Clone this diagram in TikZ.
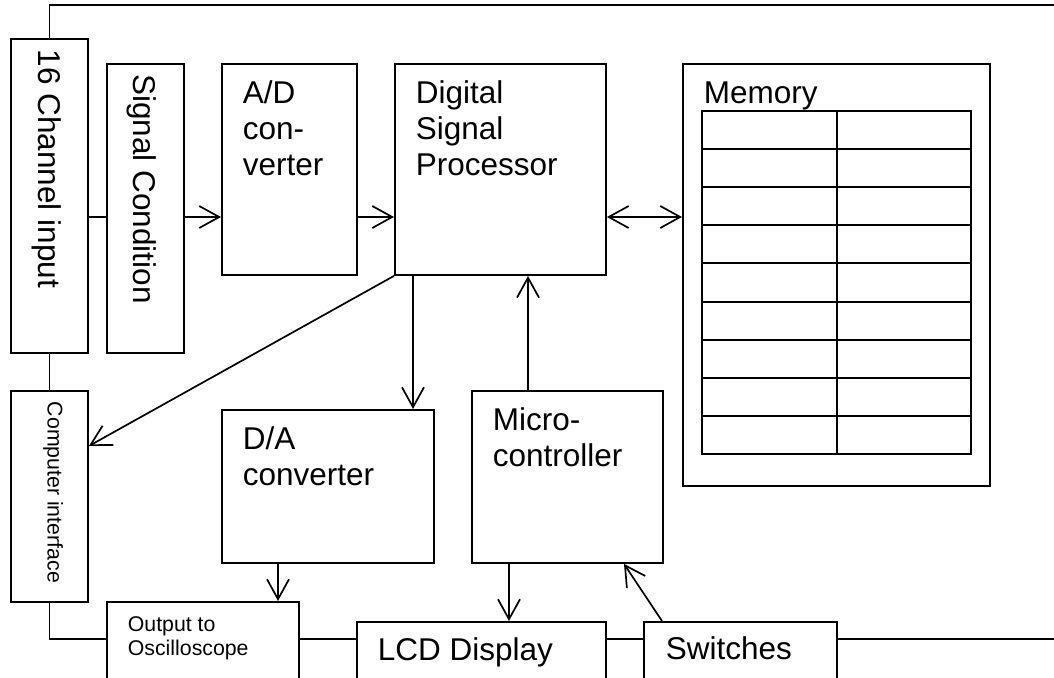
\documentclass[tikz,border=0pt]{standalone}
\usepackage{fontspec}
\setmainfont{Liberation Sans}
\usetikzlibrary{arrows.meta,calc}
% zero-width rule that fixes the height of a label's first line
\newcommand\firstline[1]{\rule{0pt}{#1}}

\begin{document}
\begin{tikzpicture}[x=1pt, y=-1pt, line width=1.7pt, line join=miter,
  box/.style={draw, line width=1.9pt, anchor=north west, inner sep=0pt},
  big/.style={anchor=north west, inner sep=0pt, align=left,
    font=\fontsize{31.5pt}{36pt}\selectfont},
  small/.style={anchor=north west, inner sep=0pt, align=left,
    font=\fontsize{21.3pt}{24pt}\selectfont},
  rot/.style={rotate=-90, anchor=base west, inner sep=0pt},
  barb/.tip={Straight Barb[length=20pt, width=22pt]},
  arr/.style={-barb},
  darr/.style={barb-barb}]

\useasboundingbox (0,0) rectangle (1054,677);
\clip (0,0) rectangle (1054,677);

% blocks
\node[box, minimum width=77pt,  minimum height=314pt] (chin) at (10,38) {};
\node[box, minimum width=77pt,  minimum height=289pt] (sigc) at (106,63) {};
\node[box, minimum width=135pt, minimum height=211pt] (adc)  at (221,63) {};
\node[box, minimum width=211pt, minimum height=211pt] (dsp)  at (394,63) {};
\node[box, minimum width=307pt, minimum height=422pt] (mem)  at (682,63) {};
\node[box, minimum width=77pt,  minimum height=211pt] (comp) at (10,390) {};
\node[box, minimum width=212pt, minimum height=153pt] (dac)  at (221,409) {};
\node[box, minimum width=191pt, minimum height=172pt] (mcu)  at (471,390) {};
\node[box, minimum width=192pt, minimum height=100pt] (osc)  at (106,601) {};
\node[box, minimum width=249pt, minimum height=80pt]  (lcd)  at (356,621) {};
\node[box, minimum width=193pt, minimum height=80pt]  (sw)   at (643,621) {};

% memory cells
\begin{scope}[line width=1.9pt]
\draw (702,111) rectangle (971,454);
\draw (837,111) -- (837,454);
\foreach \k in {1,...,8}
  \draw (702,{111+38.11*\k}) -- (971,{111+38.11*\k});
\end{scope}

% labels
\node[rot, font=\fontsize{31.5pt}{36pt}\selectfont] (chin-t) at (38,49) {16 Channel input};
\node[rot, font=\fontsize{31.5pt}{36pt}\selectfont] (sigc-t) at (133,73.5) {Signal Condition};
\node[rot, font=\fontsize{21.3pt}{24pt}\selectfont] (comp-t) at (47.5,401) {Computer interface};
\node[big] (adc-t) at ($(adc.north west)+(21,10)$) {\firstline{30pt}A/D\\con-\\verter};
\node[big] (dsp-t) at ($(dsp.north west)+(21,10)$) {\firstline{30pt}Digital\\Signal\\Processor};
\node[big] (mem-t) at ($(mem.north west)+(21,10)$) {\firstline{30pt}Memory};
\node[big] (dac-t) at ($(dac.north west)+(21,10)$) {\firstline{30pt}D/A\\converter};
\node[big] (mcu-t) at ($(mcu.north west)+(21,10)$) {\firstline{30pt}Micro-\\controller};
\node[big] (lcd-t) at ($(lcd.north west)+(21,9)$) {\firstline{30pt}LCD Display};
\node[big] (sw-t)  at ($(sw.north west)+(22,8)$) {\firstline{30pt}Switches};
\node[small] (osc-t) at ($(osc.north west)+(21,10)$) {\firstline{20pt}Output to\\Oscilloscope};

% reference rows and columns for the wiring
\coordinate (toprow) at (0,5);
\coordinate (sigrow) at (0,217);
\coordinate (cirow)  at (0,446);
\coordinate (busrow) at (0,639);
\coordinate (topend) at (1054,5);
\coordinate (busend) at (1054,639);
\coordinate (dacol)  at (413,0);
\coordinate (mccol)  at (528,0);
\coordinate (oscol)  at (278,0);
\coordinate (lcdcol) at (509,0);
\coordinate (swcol)  at (662,0);
\coordinate (swin)   at (624,0);

% connectors
\draw (chin.north) -- (chin.north |- toprow) -- (topend);
\draw (chin.east |- sigrow) -- (sigc.west |- sigrow);
\draw[arr] (sigc.east |- sigrow) -- (adc.west |- sigrow);
\draw[arr] (adc.east |- sigrow) -- (dsp.west |- sigrow);
\draw[darr] (dsp.east |- sigrow) -- (mem.west |- sigrow);
\draw[arr] (dsp.south -| dacol) -- (dac.north -| dacol);
\draw[arr] (mcu.north -| mccol) -- (dsp.south -| mccol);
\draw[arr] (dsp.south west) -- (comp.east |- cirow);
\draw (chin.south) -- (comp.north);
\draw (comp.south) -- (comp.south |- busrow) -- (osc.west |- busrow);
\draw[arr] (dac.south -| oscol) -- (osc.north -| oscol);
\draw (osc.east |- busrow) -- (lcd.west |- busrow);
\draw[arr] (mcu.south -| lcdcol) -- (lcd.north -| lcdcol);
\draw[arr] (sw.north -| swcol) -- (mcu.south -| swin);
\draw (lcd.east |- busrow) -- (sw.west |- busrow);
\draw (sw.east |- busrow) -- (busend);
\end{tikzpicture}
\end{document}
